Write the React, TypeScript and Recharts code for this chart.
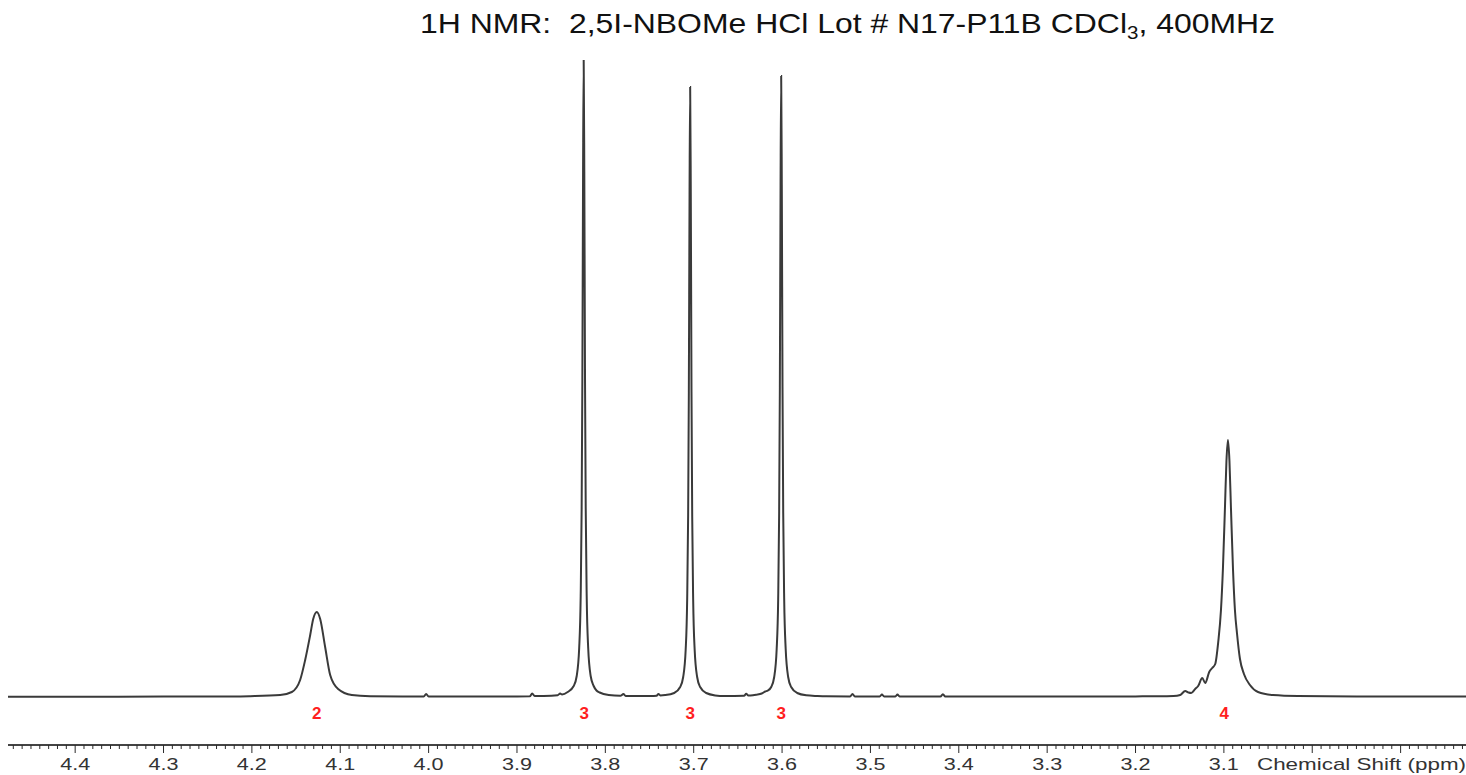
import React from "react";
import { LineChart, Line, XAxis, YAxis, ReferenceDot } from "recharts";

// spectrum pieces: [ppm, intensity] (intensity ~ px above baseline in the original)
const baselineLeft: [number, number][] = [
  [4.476, 0.3], [4.4, 0.3], [4.3, 0.4], [4.22, 0.5],
];

const peakA: [number, number][] = [
  [4.202, 0.8], [4.168, 2], [4.1548, 5], [4.1454, 17], [4.1397, 37], [4.134, 62],
  [4.1306, 78], [4.1265, 85], [4.1227, 78], [4.1171, 50], [4.1114, 22], [4.1024, 8],
  [4.0869, 2], [4.0661, 0.8],
];

const bumpsMid: [number, number][] = [
  [4.03, 0.5], [4.0055, 0.5], [4.0028, 3], [4.0, 0.5], [3.95, 0.5], [3.9, 0.6],
  [3.8855, 0.7], [3.8828, 3.5], [3.88, 0.9],
];

const peakB: [number, number][] = [
  [3.8698, 1], [3.854, 1.8], [3.8511, 3.5], [3.849, 2.6], [3.8426, 5], [3.8358, 11],
  [3.8324, 21], [3.8296, 49], [3.8279, 101], [3.8268, 189], [3.826, 318], [3.8252, 525],
  [3.8245, 637], [3.8238, 525], [3.823, 318], [3.8222, 189], [3.8211, 101], [3.8194, 49],
  [3.8166, 21], [3.8132, 11], [3.81, 6.5], [3.8064, 4.5], [3.7962, 2], [3.783, 1.2],
  [3.7795, 3], [3.777, 1],
];

const peakC: [number, number][] = [
  [3.76, 0.9], [3.7493, 1], [3.742, 1.3], [3.7399, 3], [3.7378, 1.6], [3.7323, 1.9],
  [3.7221, 4], [3.7153, 10], [3.7119, 20], [3.7091, 47], [3.7074, 97], [3.7063, 181],
  [3.7055, 305], [3.7047, 503], [3.704, 610], [3.7033, 503], [3.7025, 305], [3.7017, 181],
  [3.7006, 97], [3.6989, 47], [3.6961, 20], [3.6927, 10], [3.6859, 4], [3.6757, 1.6],
  [3.665, 1],
];

const peakD: [number, number][] = [
  [3.643, 1.2], [3.6406, 3.2], [3.6382, 1.5], [3.633, 1.8], [3.6293, 2.3], [3.623, 3.5],
  [3.6191, 5.5], [3.616, 6.5], [3.6123, 10], [3.6089, 20], [3.6061, 48], [3.6044, 98],
  [3.6033, 184], [3.6025, 310], [3.6017, 512], [3.601, 621], [3.6003, 512], [3.5995, 310],
  [3.5987, 184], [3.5976, 98], [3.5959, 48], [3.5931, 20], [3.5897, 10], [3.5829, 4],
  [3.5727, 1.7], [3.56, 1],
];

const bumpsRight: [number, number][] = [
  [3.55, 0.7], [3.523, 0.6], [3.5203, 3], [3.5176, 0.6], [3.4895, 0.5], [3.487, 2.5],
  [3.4845, 0.5], [3.4718, 0.5], [3.4694, 2.5], [3.467, 0.5], [3.4207, 0.5], [3.418, 2.8],
  [3.4153, 0.5], [3.35, 0.4], [3.25, 0.5], [3.2, 0.6],
];

const peakE: [number, number][] = [
  [3.1834, 0.8], [3.172, 0.8], [3.157, 1], [3.1494, 2], [3.1438, 6], [3.14, 4.5],
  [3.137, 4], [3.1325, 8], [3.1291, 11], [3.1245, 19], [3.1211, 14], [3.1166, 25],
  [3.1132, 29], [3.1098, 33], [3.1064, 55], [3.1033, 87], [3.1011, 128], [3.0988, 189],
  [3.0971, 236], [3.0954, 257], [3.0937, 236], [3.092, 189], [3.0897, 128], [3.0875, 87],
  [3.0852, 64], [3.0818, 38], [3.0773, 23], [3.0705, 12], [3.0614, 5], [3.0445, 2],
  [3.0162, 1],
];

const baselineRight: [number, number][] = [
  [2.95, 0.6], [2.88, 0.5], [2.826, 0.5],
];

// integration labels under the peaks
const integralPpm = [4.1265, 3.824, 3.704, 3.601, 3.0996];
const integralText = ["2", "3", "3", "3", "4"];

const majorLabels = ["4.4", "4.3", "4.2", "4.1", "4.0", "3.9", "3.8", "3.7", "3.6", "3.5", "3.4", "3.3", "3.2", "3.1"];

const minorTicks: number[] = [];
for (let i = 283; i <= 447; i++) minorTicks.push(i / 100);

const spectrum = [
  ...baselineLeft, ...peakA, ...bumpsMid, ...peakB, ...peakC,
  ...peakD, ...bumpsRight, ...peakE, ...baselineRight,
]
  .map(([ppm, h]) => ({ ppm, h }))
  .sort((a, b) => b.ppm - a.ppm);

const FONT = '"Liberation Sans", Arial, sans-serif';

function AxisTick(props: any) {
  const { x, y, payload } = props;
  const i = Math.round(payload.value * 100);
  const major = i % 10 === 0;
  const label = majorLabels.find((l) => Math.round(parseFloat(l) * 100) === i);
  return (
    <g>
      <line x1={x} x2={x} y1={y} y2={y + (major ? 8 : 4)} stroke="#2a2a2a" strokeWidth={1} />
      {label && (
        <text
          x={x}
          y={y + 25}
          textAnchor="middle"
          fontFamily={FONT}
          fontSize={17}
          fill="#333"
          textLength={30}
          lengthAdjust="spacingAndGlyphs"
        >
          {label}
        </text>
      )}
    </g>
  );
}

export default function App() {
  return (
    <div style={{ position: "fixed", left: 0, top: 0, width: 1466, height: 775, background: "#fff" }}>
      <LineChart
        width={1466}
        height={775}
        data={spectrum}
        margin={{ top: 60, right: 0, bottom: 0, left: 8 }}
      >
        <XAxis
          type="number"
          dataKey="ppm"
          domain={[2.826, 4.476]}
          allowDataOverflow
          reversed
          ticks={minorTicks}
          interval={0}
          tick={AxisTick}
          tickLine={false}
          tickSize={0}
          tickMargin={0}
          height={30}
          axisLine={{ stroke: "#444", strokeWidth: 1.8 }}
        />
        <YAxis type="number" hide domain={[-48, 637]} allowDataOverflow />
        <Line
          type="monotone"
          dataKey="h"
          stroke="#3a3a3a"
          strokeWidth={2}
          dot={false}
          isAnimationActive={false}
        />
        {integralPpm.map((p, k) => (
          <ReferenceDot
            key={k}
            x={p}
            y={-16}
            r={0}
            fill="none"
            stroke="none"
            label={{
              value: integralText[k],
              position: "center",
              fill: "#ff1e1e",
              fontSize: 17,
              fontWeight: "bold",
              fontFamily: FONT,
            }}
          />
        ))}
      </LineChart>
      <svg
        width={1466}
        height={775}
        style={{ position: "absolute", left: 0, top: 0, pointerEvents: "none" }}
      >
        <text
          x={420}
          y={33}
          fontFamily={FONT}
          fontSize={28}
          fill="#111"
          textLength={855}
          lengthAdjust="spacingAndGlyphs"
          style={{ whiteSpace: "pre" }}
        >
          1H NMR:  2,5I-NBOMe HCl Lot # N17-P11B CDCl
          <tspan fontSize={18} dy={6}>3</tspan>
          <tspan dy={-6}>, 400MHz</tspan>
        </text>
        <text
          x={1257}
          y={770}
          fontFamily={FONT}
          fontSize={17}
          fill="#333"
          textLength={209}
          lengthAdjust="spacingAndGlyphs"
        >
          Chemical Shift (ppm)
        </text>
      </svg>
    </div>
  );
}
